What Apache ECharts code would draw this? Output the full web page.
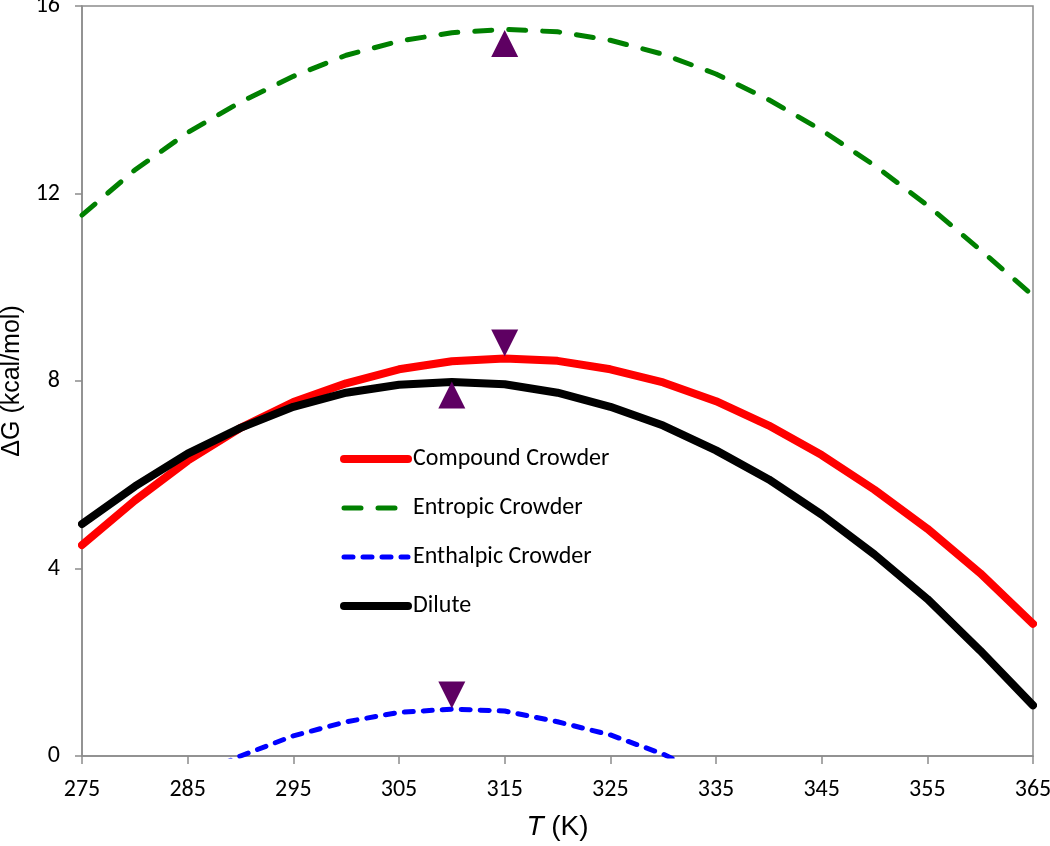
<!DOCTYPE html>
<html><head><meta charset="utf-8">
<script src="https://cdn.jsdelivr.net/npm/echarts@6/dist/echarts.min.js"></script>
<style>html,body{margin:0;padding:0;background:#fff}#c{width:1050px;height:846px}</style>
</head><body><div id="c"></div>
<script>
const temps = [275,280,285,290,295,300,305,310,315,320,325,330,335,340,345,350,355,360,365];
const compound = [4.5,5.45,6.3,7.0,7.55,7.95,8.25,8.42,8.48,8.43,8.25,7.97,7.57,7.05,6.42,5.68,4.85,3.9,2.82];
const entropic = [11.54,12.5,13.3,13.95,14.5,14.95,15.25,15.43,15.5,15.45,15.27,14.97,14.55,14.0,13.35,12.6,11.75,10.8,9.82];
const enthalpic = [null,null,-0.5,0.0,0.43,0.73,0.93,1.0,0.96,0.73,0.45,0.04,-0.5,null,null,null,null,null,null];
const dilute = [4.95,5.75,6.45,7.0,7.45,7.75,7.92,7.98,7.93,7.75,7.45,7.05,6.52,5.9,5.15,4.3,3.35,2.25,1.08];
const peakT = [315,315,310,310];
const peakG = [15.2,8.81,7.70,1.30];
const peakDir = ['up','down','up','down'];
const yTicks = [0,4,8,12,16];

const pairs = arr => temps.map((t,i)=>[t,arr[i]]);
const font = 'Carlito, "Open Sans", "Liberation Sans", sans-serif';
const arial = '"Liberation Sans", Arial, sans-serif';
const chart = echarts.init(document.getElementById('c'));
chart.setOption({
  animation:false,
  grid:{left:82,right:17,top:6,bottom:90,show:true,borderColor:'#8c8c8c',borderWidth:1.5,
    containLabel:false,outerBoundsMode:'none'},
  legend:{
    data:['Compound Crowder','Entropic Crowder','Enthalpic Crowder','Dilute'],
    orient:'vertical',left:335,top:442,itemWidth:64,itemHeight:14,itemGap:25,
    itemStyle:{opacity:0},
    lineStyle:{width:'inherit'},
    textStyle:{fontFamily:font,fontSize:24,color:'#000'},
    selectedMode:false
  },
  xAxis:{type:'value',min:275,max:365,interval:10,
    name:'{i|T} (K)',nameLocation:'middle',nameGap:57,
    nameTextStyle:{fontFamily:arial,fontSize:28,color:'#000',
      rich:{i:{fontFamily:arial,fontSize:28,fontStyle:'italic',color:'#000'}}},
    axisLine:{lineStyle:{color:'#8c8c8c',width:1.5}},
    axisTick:{show:true,length:8,lineStyle:{color:'#8c8c8c',width:1.5}},
    axisLabel:{fontFamily:font,fontSize:24,color:'#000',margin:22},
    splitLine:{show:false}},
  yAxis:{type:'value',min:yTicks[0],max:yTicks[yTicks.length-1],interval:4,
    name:'ΔG (kcal/mol)',nameLocation:'middle',nameGap:44,nameRotate:90,
    nameTextStyle:{fontFamily:arial,fontSize:25,color:'#000'},
    axisLine:{show:true,lineStyle:{color:'#8c8c8c',width:1.5}},
    axisTick:{show:true,length:7,lineStyle:{color:'#8c8c8c',width:1.5}},
    axisLabel:{fontFamily:font,fontSize:24,color:'#000',margin:22},
    splitLine:{show:false}},
  series:[
    {name:'Compound Crowder',type:'line',data:pairs(compound),symbol:'none',
      lineStyle:{color:'#ff0000',width:8,cap:'round'},itemStyle:{color:'#ff0000'},z:3},
    {name:'Entropic Crowder',type:'line',data:pairs(entropic),symbol:'none',
      lineStyle:{color:'#008000',width:5,type:[17,17],cap:'round'},itemStyle:{color:'#008000'},z:3},
    {name:'Enthalpic Crowder',type:'line',data:pairs(enthalpic),symbol:'none',connectNulls:false,
      lineStyle:{color:'#0000ff',width:5,type:[9,10],cap:'round'},itemStyle:{color:'#0000ff'},z:3},
    {name:'Dilute',type:'line',data:pairs(dilute),symbol:'none',
      lineStyle:{color:'#000000',width:8,cap:'round'},itemStyle:{color:'#000000'},z:3},
    {name:'peaks',type:'scatter',symbol:'triangle',symbolSize:[27,27],z:5,
      itemStyle:{color:'#5e0062',opacity:1},
      data:peakT.map((t,i)=>({value:[t,peakG[i]],symbolRotate:peakDir[i]==='down'?180:0}))}
  ]
});
</script></body></html>
